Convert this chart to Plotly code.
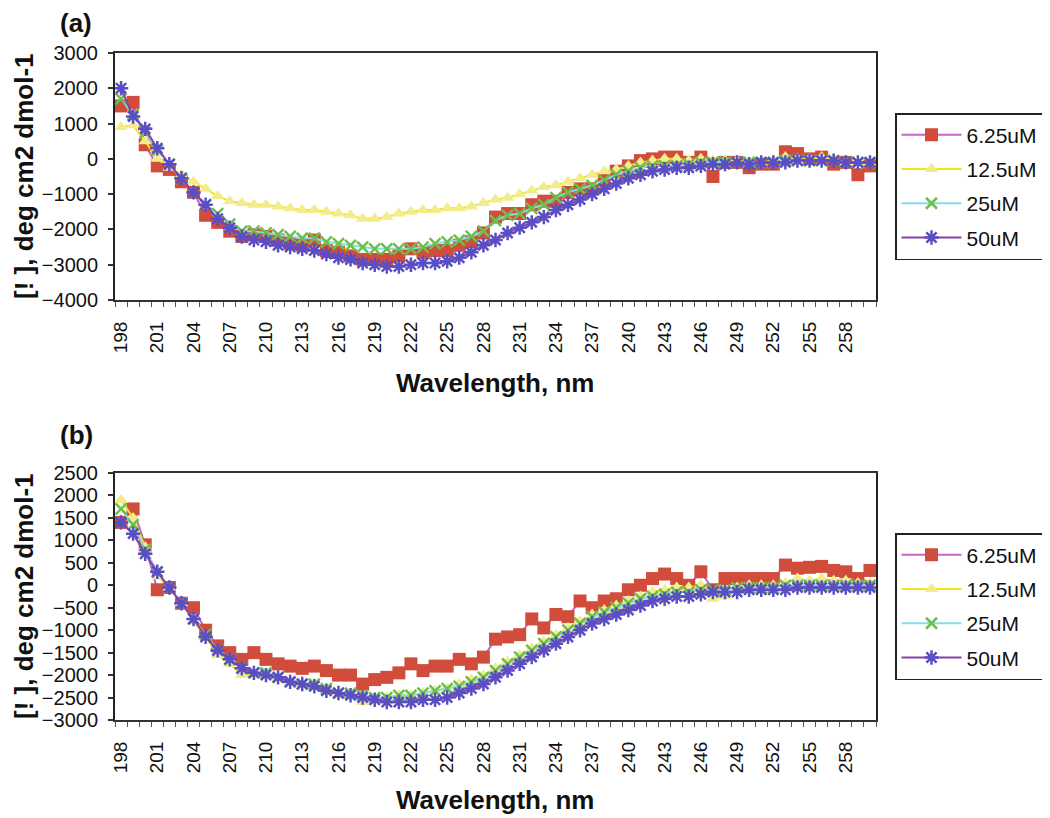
import plotly.graph_objects as go

wavelength = [198, 199, 200, 201, 202, 203, 204, 205, 206, 207, 208, 209, 210, 211, 212, 213,
              214, 215, 216, 217, 218, 219, 220, 221, 222, 223, 224, 225, 226, 227, 228, 229,
              230, 231, 232, 233, 234, 235, 236, 237, 238, 239, 240, 241, 242, 243, 244, 245,
              246, 247, 248, 249, 250, 251, 252, 253, 254, 255, 256, 257, 258, 259, 260]

series_names = ["6.25uM", "12.5uM", "25uM", "50uM"]

# Panel (a)
a_6_25 = [1500, 1600, 400, -200, -300, -650, -950, -1600, -1800, -2050, -2200, -2150, -2200, -2300, -2400, -2450,
          -2300, -2600, -2650, -2750, -2850, -2850, -2850, -2750, -2550, -2650, -2600, -2600, -2450, -2350, -2100, -1650,
          -1550, -1550, -1300, -1200, -1200, -950, -850, -850, -600, -350, -200, -50, 0, 50, 50, -100,
          50, -500, -100, -100, -250, -150, -150, 200, 150, 0, 50, -150, -100, -450, -200]
a_12_5 = [900, 950, 500, 0, -250, -450, -650, -850, -1050, -1200, -1250, -1300, -1300, -1350, -1400, -1450,
          -1450, -1500, -1550, -1600, -1700, -1700, -1650, -1550, -1500, -1450, -1450, -1400, -1400, -1350, -1250, -1150,
          -1100, -1000, -900, -800, -750, -650, -550, -450, -350, -300, -200, -100, -50, 0, 0, -50,
          0, -50, -50, -50, -100, -100, -50, 50, 0, 0, 50, 0, -100, -100, -100]
a_25 = [1700, 1250, 750, 250, -150, -550, -950, -1300, -1550, -1850, -2050, -2050, -2100, -2150, -2200, -2250,
        -2250, -2350, -2400, -2450, -2500, -2550, -2550, -2550, -2550, -2500, -2400, -2350, -2300, -2200, -2050, -1750,
        -1600, -1550, -1400, -1300, -1100, -950, -850, -750, -600, -450, -350, -250, -200, -200, -200, -150,
        -100, -100, -100, -100, -100, -100, -100, -50, -50, -50, -50, -50, -100, -100, -100]
a_50 = [2000, 1200, 850, 300, -150, -550, -950, -1300, -1700, -1950, -2200, -2300, -2350, -2450, -2500, -2550,
        -2600, -2700, -2800, -2850, -2950, -3000, -3050, -3050, -3000, -2950, -2950, -2900, -2800, -2650, -2450, -2300,
        -2100, -1950, -1800, -1650, -1450, -1300, -1150, -1000, -850, -700, -550, -450, -350, -300, -250, -250,
        -200, -150, -150, -100, -150, -100, -100, -100, -50, -50, -50, -50, -100, -100, -100]

# Panel (b)
b_6_25 = [1400, 1700, 900, -100, -50, -400, -500, -1000, -1350, -1500, -1650, -1500, -1650, -1750, -1800, -1850,
          -1800, -1900, -2000, -2000, -2200, -2100, -2050, -1950, -1750, -1900, -1800, -1800, -1650, -1750, -1600, -1200,
          -1150, -1100, -750, -950, -650, -700, -350, -500, -350, -300, -100, 0, 150, 250, 150, 0,
          300, -100, 150, 150, 150, 150, 150, 450, 380, 400, 420, 330, 300, 150, 330]
b_12_5 = [1900, 1500, 850, 200, -50, -400, -800, -1150, -1550, -1750, -2000, -2000, -2000, -2050, -2150, -2200,
          -2200, -2300, -2450, -2450, -2600, -2550, -2500, -2450, -2450, -2400, -2350, -2300, -2200, -2100, -2000, -1850,
          -1700, -1550, -1400, -1250, -1100, -950, -800, -650, -550, -450, -350, -250, -150, -100, -50, -50,
          0, -300, -250, -50, 0, 0, 0, 50, 150, 100, 150, 100, 100, 50, 50]
b_25 = [1700, 1350, 800, 300, -50, -400, -750, -1100, -1450, -1650, -1850, -1950, -1950, -2050, -2150, -2200,
        -2200, -2300, -2400, -2400, -2450, -2500, -2500, -2450, -2450, -2400, -2350, -2300, -2250, -2150, -2050, -1900,
        -1750, -1600, -1450, -1300, -1150, -1000, -850, -700, -600, -500, -400, -300, -250, -200, -150, -150,
        -100, -100, -100, -50, -50, -50, -50, 0, 0, 0, 0, 0, 0, 0, 0]
b_50 = [1400, 1150, 700, 300, -50, -400, -750, -1150, -1450, -1650, -1850, -1950, -2000, -2050, -2150, -2200,
        -2250, -2350, -2400, -2450, -2500, -2550, -2600, -2600, -2600, -2550, -2550, -2500, -2400, -2300, -2200, -2050,
        -1900, -1750, -1600, -1450, -1300, -1150, -1000, -850, -750, -650, -550, -450, -350, -300, -250, -250,
        -200, -150, -150, -150, -100, -100, -100, -100, -50, -50, -50, -50, -50, -50, -50]

FONT = "Liberation Sans, Arial, sans-serif"

styles = [
    dict(line_color="#c864c4", marker=dict(symbol="square", size=13, color="#d24c3c",
                                            line=dict(width=0))),
    dict(line_color="#f2e41e", marker=dict(symbol="triangle-up", size=12, color="#f3ec8c",
                                            line=dict(width=0))),
    dict(line_color="#86dced", marker=dict(symbol="x-thin-open", size=11, color="#6cc04a",
                                            line=dict(width=2.5, color="#6cc04a"))),
    dict(line_color="#8c3fa8", marker=dict(symbol="asterisk-open", size=12, color="#5a4ec4",
                                            line=dict(width=2.5, color="#5a4ec4"))),
]

fig = go.Figure()

panels = [
    ([a_6_25, a_12_5, a_25, a_50], "x", "y", "legend"),
    ([b_6_25, b_12_5, b_25, b_50], "x2", "y2", "legend2"),
]
for data, xa, ya, lg in panels:
    for name, vals, st in zip(series_names, data, styles):
        fig.add_trace(go.Scatter(
            x=wavelength, y=vals, name=name, mode="lines+markers",
            line=dict(color=st["line_color"], width=2),
            marker=st["marker"], xaxis=xa, yaxis=ya, legend=lg,
            legendgroup=lg + name,
        ))

W, H = 1050, 818
OFF = 8  # page body margin offset compensation


def px(v):
    return (v - OFF) / W


def py(v):
    return 1 - (v - OFF) / H


xdom = [px(115), px(876)]


def xaxis_cfg(anchor):
    return dict(
        domain=xdom, anchor=anchor, range=[197.5, 260.5], automargin=False,
        tickmode="linear", tick0=198, dtick=3, tickangle=-90,
        ticks="", ticklabelstandoff=12,
        tickfont=dict(family=FONT, size=19, color="#111"),
        showline=True, mirror=True, linecolor="#333", linewidth=2,
        showgrid=False, zeroline=False,
        minor=dict(tickmode="linear", tick0=197.5, dtick=1, ticks="outside",
                   ticklen=5, tickwidth=1, tickcolor="#555", showgrid=False),
    )


def yaxis_cfg(anchor, top, bottom, rng, dt):
    return dict(
        domain=[py(bottom), py(top)], anchor=anchor, range=rng, tickmode="linear",
        tick0=rng[0], dtick=dt, automargin=False,
        ticks="outside", ticklen=5, tickwidth=1.5, tickcolor="#333",
        tickfont=dict(family=FONT, size=20, color="#111"),
        showline=True, mirror=True, linecolor="#222", linewidth=2,
        showgrid=False, zeroline=False, ticklabelstandoff=6,
    )


def legend_cfg(ytop):
    return dict(
        x=px(895), xanchor="left", y=py(ytop), yanchor="top",
        bordercolor="#222", borderwidth=1.5, bgcolor="white",
        font=dict(family=FONT, size=21, color="#111"),
        tracegroupgap=4, traceorder="grouped", itemwidth=60,
    )


ytitle = "[! ], deg cm2 dmol-1"
ann_font_title = dict(family=FONT, size=26, color="#111")


def ann(text, xc, yc, font, angle=0):
    return dict(text=text, x=px(xc), y=py(yc), xref="paper", yref="paper",
                xanchor="center", yanchor="middle", showarrow=False,
                textangle=angle, font=font)


fig.update_layout(
    width=W, height=H, margin=dict(l=0, r=0, t=0, b=0, pad=0, autoexpand=False),
    paper_bgcolor="white", plot_bgcolor="white",
    xaxis=xaxis_cfg("y"),
    yaxis=yaxis_cfg("x", 53, 300, [-4000, 3000], 1000),
    xaxis2=xaxis_cfg("y2"),
    yaxis2=yaxis_cfg("x2", 473, 720, [-3000, 2500], 500),
    legend=legend_cfg(113),
    legend2=legend_cfg(533),
    annotations=[
        ann("<b>(a)</b>", 76, 23, dict(family=FONT, size=26, color="#111")),
        ann("<b>(b)</b>", 76, 435, dict(family=FONT, size=26, color="#111")),
        ann("<b>" + ytitle + "</b>", 24, 176, ann_font_title, -90),
        ann("<b>" + ytitle + "</b>", 24, 596, ann_font_title, -90),
        ann("<b>Wavelength, nm</b>", 495, 383, ann_font_title),
        ann("<b>Wavelength, nm</b>", 495, 800, ann_font_title),
    ],
)

fig.write_html("out.html")
